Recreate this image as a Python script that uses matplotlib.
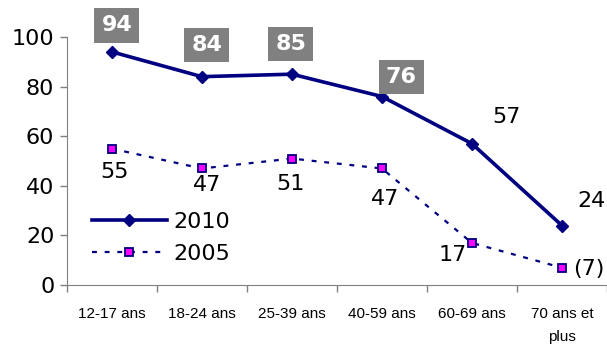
import numpy as np
import matplotlib.pyplot as plt

categories = ["12-17 ans", "18-24 ans", "25-39 ans", "40-59 ans", "60-69 ans", "70 ans et\nplus"]
values_2010 = [94, 84, 85, 76, 57, 24]
values_2005 = [55, 47, 51, 47, 17, 7]
labels_2005 = ["55", "47", "51", "47", "17", "(7)"]

# offsets (points) of the value labels
offs_2010 = [(3.6, 19), (3.6, 23), (-0.7, 22), (14, 14), (25, 19), (21, 18)]
boxed_2010 = [True, True, True, True, False, False]
offs_2005 = [(2, -17), (3.6, -12), (-0.7, -18), (2, -22), (-14, -9), (19, -1)]

navy = "#000080"
x = np.arange(len(categories))

fig = plt.figure(figsize=(6.07, 3.52), dpi=100)
ax = fig.add_axes([0.110, 0.190, 0.890, 0.705])

ax.plot(x, values_2010, color=navy, lw=2.6, marker="D", ms=6,
        mfc=navy, mec=navy, label="2010", solid_joinstyle="round")
ax.plot(x, values_2005, color=navy, lw=1.6, ls=(0, (2.2, 3.5)), marker="s", ms=5.5,
        mfc="#ff00ff", mec=navy, mew=1.3, label="2005")

for i, v in enumerate(values_2010):
    if boxed_2010[i]:
        ax.annotate(str(v), (x[i], v), xytext=offs_2010[i], textcoords="offset points",
                    ha="center", va="center", fontsize=16, fontweight="bold", color="white",
                    family="DejaVu Sans",
                    bbox=dict(boxstyle="square,pad=0.32", fc="#808080", ec="none"))
    else:
        ax.annotate(str(v), (x[i], v), xytext=offs_2010[i], textcoords="offset points",
                    ha="center", va="center", fontsize=16, color="black", family="DejaVu Sans")

for i, v in enumerate(values_2005):
    ax.annotate(labels_2005[i], (x[i], v), xytext=offs_2005[i], textcoords="offset points",
                ha="center", va="center", fontsize=16, color="black", family="DejaVu Sans")

ax.set_xlim(-0.5, len(categories) - 0.5)
ax.set_ylim(0, 100)
ax.set_yticks(range(0, 101, 20))
ax.tick_params(axis="y", labelsize=16, length=5, width=1, color="#808080", pad=4)
ax.set_xticks(x)
ax.set_xticklabels(categories, fontsize=11, family="Liberation Sans", linespacing=1.75)
ax.set_xticks(np.arange(-0.5, len(categories), 1), minor=True)
ax.tick_params(axis="x", which="major", length=0, pad=16)
ax.tick_params(axis="x", which="minor", length=5, width=1, color="#808080")

for side in ["top", "right"]:
    ax.spines[side].set_visible(False)
for side in ["left", "bottom"]:
    ax.spines[side].set_color("#808080")

leg = ax.legend(loc="lower left", bbox_to_anchor=(0.046, 0.085), frameon=False,
                fontsize=16, handlelength=3.4, labelspacing=0.55, handletextpad=0.3,
                borderaxespad=0, borderpad=0)

fig.savefig("out.png", dpi=100)
